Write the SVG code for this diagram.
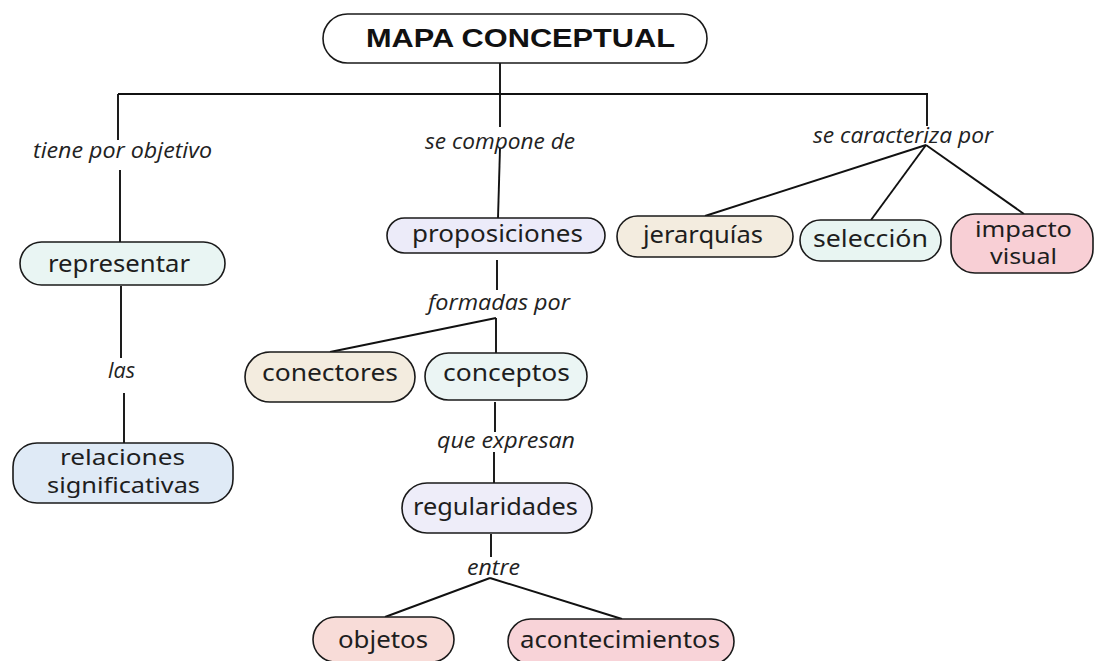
<svg xmlns="http://www.w3.org/2000/svg" width="1095" height="661" viewBox="0 0 1095 661">
<style>
.bg{fill:#ffffff}
.node rect{stroke:#1a1a1a;stroke-width:1.6}
.node text{font-family:"Noto Sans","Open Sans",sans-serif;font-size:23.5px;fill:#1e1e1e;text-anchor:middle}
.node text.two{font-size:21.5px}
.title text{font-family:"Liberation Sans",Arial,sans-serif;font-weight:bold;font-size:26.5px;fill:#111;text-anchor:start}
.lab{font-family:"Open Sans","Noto Sans",sans-serif;font-style:italic;font-size:21.5px;fill:#222;text-anchor:middle}
#connectors path{fill:none;stroke:#111;stroke-width:1.9}
</style>
<rect class="bg" x="0" y="0" width="1095" height="661"/>
<g id="connectors">
<path d="M500 63 V94"/>
<path d="M118 94 H928"/>
<path d="M118 94 V140"/>
<path d="M120 170 V242"/>
<path d="M121 286 V358"/>
<path d="M124 393 V443"/>
<path d="M500 94 V127"/>
<path d="M500 148 L498 218"/>
<path d="M497 260 V290"/>
<path d="M496 318 V353"/>
<path d="M496 318 L330 352"/>
<path d="M495 402 V432"/>
<path d="M494 452 V483"/>
<path d="M491 534 V557"/>
<path d="M490 578 L385 617"/>
<path d="M490 578 L622 619"/>
<path d="M927 94 V126"/>
<path d="M926 145 L705 216"/>
<path d="M926 145 L871 220"/>
<path d="M926 145 L1024 214"/>
</g>
<g id="labels">
<text class="lab" x="122.5" y="158" textLength="179" lengthAdjust="spacingAndGlyphs">tiene por objetivo</text>
<text class="lab" x="500" y="149" textLength="150" lengthAdjust="spacingAndGlyphs">se compone de</text>
<text class="lab" x="903" y="143" textLength="180" lengthAdjust="spacingAndGlyphs">se caracteriza por</text>
<text class="lab" x="499" y="310" textLength="142" lengthAdjust="spacingAndGlyphs">formadas por</text>
<text class="lab" x="506" y="448" textLength="138" lengthAdjust="spacingAndGlyphs">que expresan</text>
<text class="lab" x="121.5" y="378" textLength="27" lengthAdjust="spacingAndGlyphs">las</text>
<text class="lab" x="493.5" y="575" textLength="53" lengthAdjust="spacingAndGlyphs">entre</text>
</g>
<g id="title" class="node title">
<rect x="323" y="14" width="384" height="49" rx="24.5" fill="#ffffff"/>
<text x="366" y="47" textLength="309" lengthAdjust="spacingAndGlyphs">MAPA CONCEPTUAL</text>
</g>
<g id="representar" class="node">
<rect x="20" y="242" width="205" height="43" rx="21.5" fill="#e9f5f3"/>
<text x="119" y="272" textLength="142" lengthAdjust="spacingAndGlyphs">representar</text>
</g>
<g id="relaciones" class="node">
<rect x="13" y="443" width="220" height="60" rx="24" fill="#dfeaf6"/>
<text class="two" x="122.5" y="465" textLength="125" lengthAdjust="spacingAndGlyphs">relaciones</text>
<text class="two" x="123.5" y="492.5" textLength="153" lengthAdjust="spacingAndGlyphs">significativas</text>
</g>
<g id="proposiciones" class="node">
<rect x="387" y="218" width="218" height="35" rx="17.5" fill="#ecebf9"/>
<text x="497.5" y="242" textLength="171" lengthAdjust="spacingAndGlyphs">proposiciones</text>
</g>
<g id="conectores" class="node">
<rect x="245" y="352" width="170" height="50" rx="25" fill="#f3ecdf"/>
<text x="330" y="381" textLength="136" lengthAdjust="spacingAndGlyphs">conectores</text>
</g>
<g id="conceptos" class="node">
<rect x="425" y="353" width="162" height="47" rx="23.5" fill="#ebf5f4"/>
<text x="506.5" y="381" textLength="127" lengthAdjust="spacingAndGlyphs">conceptos</text>
</g>
<g id="regularidades" class="node">
<rect x="402" y="483" width="190" height="50" rx="25" fill="#eeedf9"/>
<text x="495.5" y="515" textLength="165" lengthAdjust="spacingAndGlyphs">regularidades</text>
</g>
<g id="objetos" class="node">
<rect x="313" y="617" width="141" height="45" rx="22.5" fill="#f8dcd8"/>
<text x="383" y="648" textLength="90" lengthAdjust="spacingAndGlyphs">objetos</text>
</g>
<g id="acontecimientos" class="node">
<rect x="508" y="619" width="226" height="45" rx="22.5" fill="#f8d3d8"/>
<text x="620" y="648" textLength="200" lengthAdjust="spacingAndGlyphs">acontecimientos</text>
</g>
<g id="jerarquias" class="node">
<rect x="617" y="216" width="176" height="41" rx="20.5" fill="#f3ecdf"/>
<text x="703" y="243" textLength="120" lengthAdjust="spacingAndGlyphs">jerarquías</text>
</g>
<g id="seleccion" class="node">
<rect x="800" y="220" width="141" height="41" rx="20.5" fill="#e8f5f2"/>
<text x="870.5" y="247" textLength="115" lengthAdjust="spacingAndGlyphs">selección</text>
</g>
<g id="impacto" class="node">
<rect x="951" y="214" width="142" height="59" rx="24" fill="#f8cfd5"/>
<text class="two" x="1023.5" y="237" textLength="97" lengthAdjust="spacingAndGlyphs">impacto</text>
<text class="two" x="1023.5" y="264" textLength="67" lengthAdjust="spacingAndGlyphs">visual</text>
</g>
</svg>
